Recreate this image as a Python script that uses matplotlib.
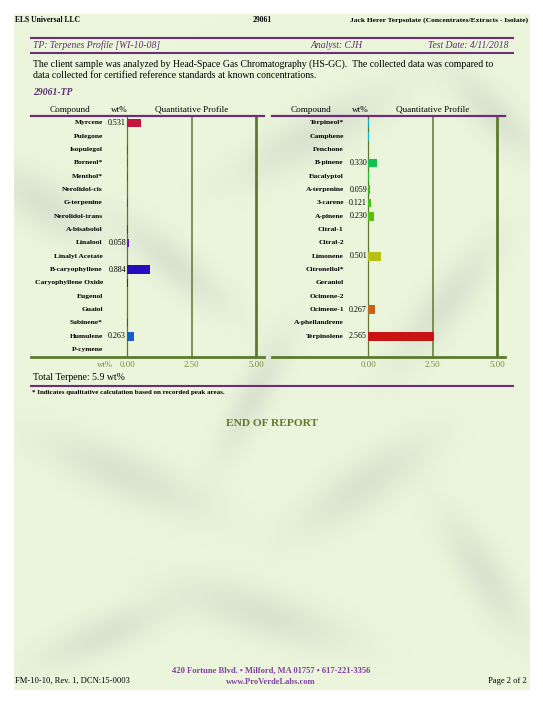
import numpy as np
import matplotlib
matplotlib.use('Agg')
from matplotlib import pyplot as plt

plt.rcParams['font.family'] = ['Liberation Serif', 'DejaVu Serif']

# ---- data ----
left_names = ['Myrcene', 'Pulegone', 'Isopulegol', 'Borneol*', 'Menthol*', 'Nerolidol-cis',
              'G-terpenine', 'Nerolidol-trans', 'A-bisabolol', 'Linalool', 'Linalyl Acetate',
              'B-caryophyllene', 'Caryophyllene Oxide', 'Eugenol', 'Guaiol', 'Sabinene*',
              'Humulene', 'P-cymene']
left_values = [0.531, 0, 0.045, 0.045, 0.045, 0, 0.045, 0, 0.045, 0.058, 0,
               0.884, 0.045, 0, 0, 0.045, 0.263, 0]
left_colors = ['#c4143f', '#c8145a', '#c81478', '#c8148c', '#c014a0', '#a814b4',
               '#9014c8', '#8014c8', '#7014c8', '#6414c8', '#4a14c8', '#2a0cc0',
               '#2020c8', '#1430c8', '#1440c8', '#1450c8', '#1460c8', '#1478c8']

right_names = ['Terpineol*', 'Camphene', 'Fenchone', 'B-pinene', 'Eucalyptol', 'A-terpenine',
               '3-carene', 'A-pinene', 'Citral-1', 'Citral-2', 'Limonene', 'Citronellol*',
               'Geraniol', 'Ocimene-2', 'Ocimene-1', 'A-phellandrene', 'Terpinolene']
right_values = [0.045, 0.045, 0, 0.330, 0.045, 0.059, 0.121, 0.230, 0, 0,
                0.501, 0, 0, 0, 0.267, 0, 2.565]
right_colors = ['#14a8c8', '#14b4c0', '#14c0a0', '#14c050', '#20c030', '#30c014',
                '#40c014', '#58c014', '#78c014', '#98c014', '#b8c014', '#c8a814',
                '#c89014', '#c87814', '#c86414', '#c84014', '#c81414']

ticks = [0, 2.5, 5]
tick_labels = ['0.00', '2.50', '5.00']
total_terpene = 5.9

W, H = 543, 702
PURPLE = '#6e2d78'
TPURPLE = '#5a3070'
OLIVE = '#5c7a2e'
TICKC = '#76873f'

fig = plt.figure(figsize=(W / 100, H / 100), dpi=100)
fig.patch.set_facecolor('white')

bg = fig.add_axes([0, 0, 1, 1])
bg.set_xlim(0, W)
bg.set_ylim(H, 0)
bg.axis('off')

# faded leaf-like page background
yy, xx = np.mgrid[0:676, 0:516]
base = np.array([236, 246, 220]) / 255
shade = np.array([212, 221, 204]) / 255
blobs = [(30, 190, 60, 25, 0.6), (300, 120, 90, 25, -0.5), (160, 250, 70, 20, 0.7),
         (430, 290, 80, 22, -0.9), (110, 460, 90, 25, 0.4), (350, 470, 80, 25, -0.6),
         (250, 600, 90, 25, 0.3), (470, 560, 70, 22, 1.0), (90, 620, 70, 20, -0.4),
         (480, 100, 60, 20, 0.8), (240, 380, 70, 18, -1.1)]
dark = np.zeros((676, 516))
for cx, cy, a, b, ang in blobs:
    dx, dy = xx - cx, yy - cy
    u = dx * np.cos(ang) + dy * np.sin(ang)
    v = -dx * np.sin(ang) + dy * np.cos(ang)
    dark += 0.75 * np.exp(-(u / a) ** 2 - (v / b) ** 2)
dark = np.clip(dark, 0, 1)
img = base[None, None, :] * (1 - dark[..., None]) + shade[None, None, :] * dark[..., None]
bg.imshow(img, extent=(14, 530, 690, 14), aspect='auto', zorder=0)

# header block
bg.text(15, 20, 'ELS Universal LLC', fontsize=5.5, fontweight='bold', va='center')
bg.text(262, 20, '29061', fontsize=5.5, fontweight='bold', va='center', ha='center')
bg.text(528, 20, 'Jack Herer Terpsolate (Concentrates/Extracts - Isolate)', fontsize=5.4,
        fontweight='bold', va='center', ha='right')
bg.plot([31, 513], [37.7, 37.7], color=PURPLE, lw=1.5)
bg.plot([31, 513], [52.7, 52.7], color=PURPLE, lw=1.5)
bg.text(33, 45.5, 'TP: Terpenes Profile [WI-10-08]', fontsize=6.9, style='italic',
        color=TPURPLE, va='center')
bg.text(337, 45.5, 'Analyst: CJH', fontsize=6.9, style='italic', color=TPURPLE,
        va='center', ha='center')
bg.text(509, 45.5, 'Test Date: 4/11/2018', fontsize=6.9, style='italic', color=TPURPLE,
        va='center', ha='right')
bg.text(33, 64.5, 'The client sample was analyzed by Head-Space Gas Chromatography (HS-GC).  '
        'The collected data was compared to', fontsize=7.0, va='center')
bg.text(33, 76, 'data collected for certified reference standards at known concentrations.',
        fontsize=7.0, va='center')
bg.text(33, 92.5, '29061-TP', fontsize=6.9, style='italic', fontweight='bold',
        color=TPURPLE, va='center')


def panel(x0, x1, names, values, colors, show_wt):
    y0, y1 = 115.5, 357
    ax = fig.add_axes([x0 / W, 1 - y1 / H, (x1 - x0) / W, (y1 - y0) / H])
    ax.patch.set_alpha(0)
    scale = 25.74
    ax.set_xlim(-(127.3 - 31) / scale, (264 - 127.3) / scale)
    ax.set_ylim(17.55, -0.56)
    for s in ['left', 'right']:
        ax.spines[s].set_visible(False)
    ax.spines['top'].set_color(PURPLE)
    ax.spines['top'].set_linewidth(1.6)
    ax.spines['bottom'].set_color(OLIVE)
    ax.spines['bottom'].set_linewidth(2.0)
    ax.set_yticks([])
    ax.set_xticks(ticks)
    ax.set_xticklabels(tick_labels)
    ax.tick_params(axis='x', length=0, pad=3, labelsize=6.3, labelcolor=TICKC)
    for t, w in zip(ticks, [0.9, 1.1, 2.0]):
        ax.axvline(t, color=OLIVE, lw=w, zorder=1)
    rows = np.arange(len(names))
    vals = np.array(values, dtype=float)
    keep = vals > 0
    ax.barh(rows[keep], vals[keep], height=0.66, left=0,
            color=[c for c, k in zip(colors, keep) if k], zorder=3)
    for i, (n, v) in enumerate(zip(names, values)):
        ax.text(-0.95, i, n, ha='right', va='center', fontsize=5.4, fontweight='bold')
        if v >= 0.05:
            ax.text(-0.05, i, f'{v:.3f}', ha='right', va='center', fontsize=5.8)
    ax.text(-2.23, -1.0, 'Compound', ha='center', va='center', fontsize=6.6, clip_on=False)
    ax.text(-0.31, -1.0, 'wt%', ha='center', va='center', fontsize=6.6, clip_on=False)
    ax.text(2.5, -1.0, 'Quantitative Profile', ha='center', va='center', fontsize=6.6,
            clip_on=False)
    if show_wt:
        ax.text(-0.87, 18.15, 'wt%', ha='center', va='center', fontsize=6.3,
                color=TICKC, clip_on=False)
    return ax


panel(31, 264, left_names, left_values, left_colors, True)
panel(272, 505, right_names, right_values, right_colors, False)

bg.text(33, 377, f'Total Terpene: {total_terpene} wt%', fontsize=7, va='center')
bg.plot([31, 513], [385.7, 385.7], color=PURPLE, lw=1.5)
bg.text(32, 392.5, '* Indicates qualitative calculation based on recorded peak areas.',
        fontsize=5, fontweight='bold', va='center')
bg.text(272, 423.5, 'END OF REPORT', fontsize=8.2, fontweight='bold', color='#67772f',
        ha='center', va='center')

# footer
bg.text(271, 670, '420 Fortune Blvd. \u2022 Milford, MA 01757 \u2022 617-221-3356', fontsize=6.1,
        fontweight='bold', color='#8040a0', ha='center', va='center')
bg.text(271, 682, 'www.ProVerdeLabs.com', fontsize=6.1, fontweight='bold', color='#8040a0',
        ha='center', va='center')
bg.text(15, 681, 'FM-10-10, Rev. 1, DCN:15-0003', fontsize=6.1, va='center')
bg.text(527, 681, 'Page 2 of 2', fontsize=6.1, va='center', ha='right')

fig.savefig('out.png', dpi=100)
